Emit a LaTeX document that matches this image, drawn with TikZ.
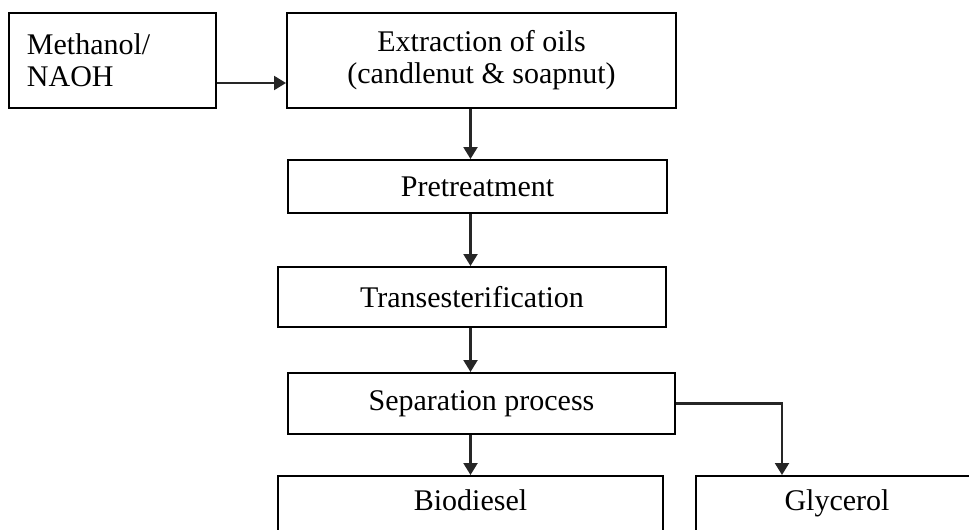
\documentclass[tikz,border=0pt]{standalone}
\usepackage{fontspec}
\setmainfont{Liberation Serif}
\usetikzlibrary{arrows.meta}
\begin{document}
\begin{tikzpicture}[x=1pt, y=-1pt,
    box/.style={draw, line width=2pt, rectangle, inner sep=0pt, font=\fontsize{30}{32}\selectfont},
    flow/.style={line width=2.2pt, draw=black!85, -{Triangle[length=12pt,width=14pt]}}]

    \useasboundingbox (0,0) rectangle (969,530);
    \clip (0,0) rectangle (969,530);

    % input
    \node[box, text width=171pt, inner xsep=18pt, minimum height=95pt, align=left] (meth) at (112.5,60.5) {Methanol/\\NAOH};

    % process chain
    \node[box, minimum width=389pt, minimum height=95pt, align=center] (extr) at (481.5,60.5) {Extraction of oils\\(candlenut \& soapnut)};
    \node[box, minimum width=379pt, minimum height=53pt] (pre) at (477.5,186.5) {Pretreatment};
    \node[box, minimum width=388pt, minimum height=60pt] (trans) at (472,297) {Transesterification};
    \node[box, minimum width=387pt, minimum height=61pt] (sep) at (481.5,403.5) {Separation process};

    % products (cut off by the page edge)
    \node[box, anchor=north, minimum width=385pt, text height=34pt, text depth=80pt] (bio) at (470.5,475) {Biodiesel};
    \node[box, anchor=north, minimum width=282pt, text height=34pt, text depth=80pt] (gly) at (837,475) {Glycerol};

    % arrows
    \draw[flow] ([yshift=-22.5pt]meth.east) -- ([yshift=-22.5pt]extr.west);
    \draw[flow] (extr.south -| bio.north) -- (pre.north -| bio.north);
    \draw[flow] (pre.south -| bio.north) -- (trans.north -| bio.north);
    \draw[flow] (trans.south -| bio.north) -- (sep.north -| bio.north);
    \draw[flow] (sep.south -| bio.north) -- (bio.north);
    \draw[flow] (sep.east) -| ([xshift=-55pt]gly.north);

\end{tikzpicture}
\end{document}
